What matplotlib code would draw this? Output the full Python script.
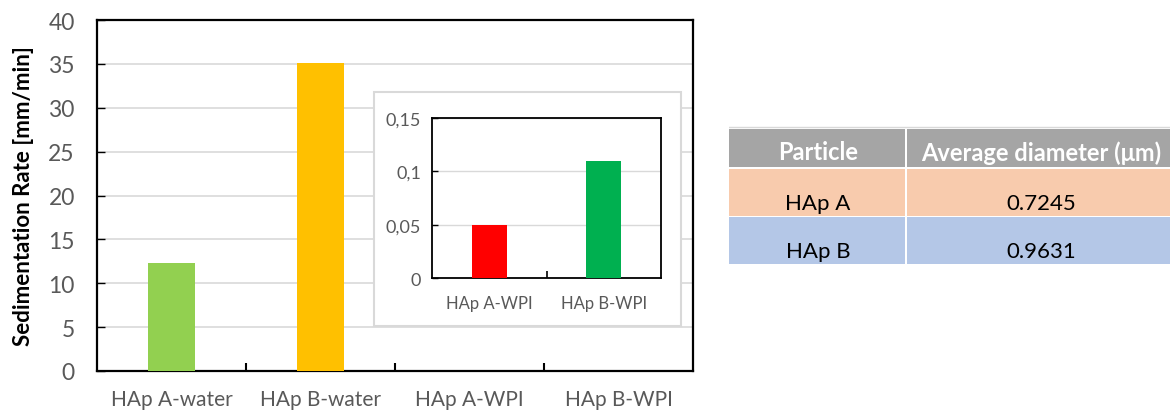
import matplotlib.pyplot as plt
from matplotlib.patches import Rectangle
from matplotlib.ticker import FuncFormatter

plt.rcParams['font.family'] = ['Lato', 'DejaVu Sans']

# data
categories = ['HAp A-water', 'HAp B-water', 'HAp A-WPI', 'HAp B-WPI']
rates = [12.3, 35.1, 0.0, 0.0]
main_colors = ['#92D050', '#FFC000', '#92D050', '#FFC000']

inset_categories = ['HAp A-WPI', 'HAp B-WPI']
inset_rates = [0.05, 0.11]
inset_colors = ['#FF0000', '#00B050']

table_header = ['Particle', 'Average diameter (\u03bcm)']
table_particles = ['HAp A', 'HAp B']
table_diameters = ['0.7245', '0.9631']
table_row_colors = ['#F8CBAD', '#B4C7E7']

W, H = 1170, 414
fig = plt.figure(figsize=(W / 100, H / 100), dpi=100)

def fbox(x0, y0, x1, y1):
    # pixel box (top-left origin) -> figure fraction rect
    return [x0 / W, 1 - y1 / H, (x1 - x0) / W, (y1 - y0) / H]

tick_grey = '#595959'

# main chart
ax = fig.add_axes(fbox(97, 21, 693, 372))
xs = range(len(categories))
ax.bar(xs, rates, width=0.31, color=main_colors, zorder=3)
ax.set_xlim(-0.5, len(categories) - 0.5)
ax.set_ylim(0, 40)
ax.set_yticks(range(0, 41, 5))
ax.set_xticks(xs)
ax.set_xticklabels(categories, fontsize=15, color=tick_grey)
ax.tick_params(axis='x', length=0, pad=13)
ax.set_xticks([0.5, 1.5, 2.5], minor=True)
ax.tick_params(axis='x', which='minor', direction='in', length=6, width=1.5, color='black')
ax.tick_params(axis='y', direction='in', length=6, width=1, color='black',
               labelsize=16.5, labelcolor=tick_grey, pad=16)
ax.grid(axis='y', color='#D9D9D9', linewidth=1.2, zorder=0)
for s in ax.spines.values():
    s.set_linewidth(1.6)
ax.set_ylabel('Sedimentation Rate [mm/min]', fontsize=16, fontweight='bold', labelpad=10)

# inset frame
fig.patches.append(Rectangle((374 / W, 1 - 327 / H), 307 / W, 234 / H,
                             transform=fig.transFigure, facecolor='white',
                             edgecolor='#D9D9D9', linewidth=1.5, zorder=5))

ins = fig.add_axes(fbox(432, 119, 661, 279))
ins.set_zorder(6)
ixs = range(len(inset_categories))
ins.bar(ixs, inset_rates, width=0.31, color=inset_colors, zorder=3)
ins.set_xlim(-0.5, len(inset_categories) - 0.5)
ins.set_ylim(0, 0.15)
ins.set_yticks([0, 0.05, 0.1, 0.15])
ins.yaxis.set_major_formatter(FuncFormatter(lambda v, p: ('%g' % round(v, 2)).replace('.', ',')))
ins.set_xticks(list(ixs))
ins.set_xticklabels(inset_categories, fontsize=12, color=tick_grey)
ins.tick_params(axis='x', length=0, pad=12)
ins.set_xticks([0.5], minor=True)
ins.tick_params(axis='x', which='minor', direction='in', length=5, width=1.2, color='black')
ins.tick_params(axis='y', direction='in', length=4, width=1, color='black',
                labelsize=13, labelcolor=tick_grey, pad=8)
ins.grid(axis='y', color='#D9D9D9', linewidth=1, zorder=0)
for s in ins.spines.values():
    s.set_linewidth(1.3)

# table
tab = fig.add_axes(fbox(729, 126, 1170, 266))
tab.set_xlim(729, 1170)
tab.set_ylim(266, 126)
tab.axis('off')
col_x = [729, 906, 1170]
text_x = [818, 1041]
tab.plot([729, 1170], [128, 128], color='#D9D9D9', linewidth=1)
rows = [(130, 168, '#A5A5A5', table_header, 'white', 'bold', 153)]
tops = [170, 218]
for i in range(len(table_particles)):
    rows.append((tops[i], tops[i] + 47, table_row_colors[i],
                 [table_particles[i], table_diameters[i]], 'black', 'normal', tops[i] + 34))
for y0, y1, fc, texts, tc, fw, ty in rows:
    for j in range(2):
        x0, x1 = col_x[j] + (1 if j else 0), col_x[j + 1] - (1 if j == 0 else 0)
        tab.add_patch(Rectangle((x0, y0), x1 - x0, y1 - y0, facecolor=fc, edgecolor='none'))
        tab.text(text_x[j], ty, texts[j], ha='center', va='center',
                 fontsize=17 if fw == 'bold' else 16, color=tc, fontweight=fw)

fig.savefig('out.png', dpi=100)
